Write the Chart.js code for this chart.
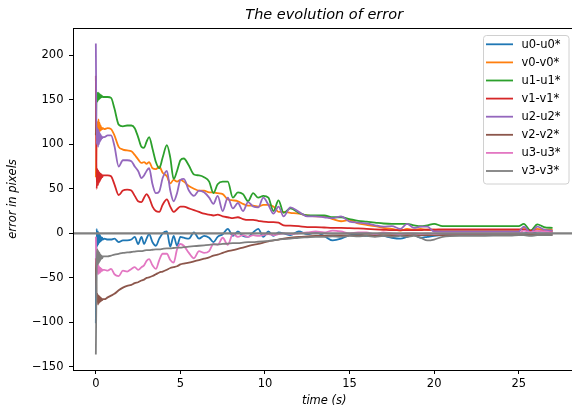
<!DOCTYPE html>
<html>
<head>
<meta charset="utf-8">
<title>The evolution of error</title>
<script src="https://cdn.jsdelivr.net/npm/chart.js@4.4.1/dist/chart.umd.min.js"></script>
<style>
  html, body { margin: 0; padding: 0; background: #fff; overflow: hidden; }
  #wrap { width: 572px; height: 414px; overflow: hidden; }
  canvas { display: block; }
</style>
</head>
<body>
<div id="wrap"><canvas id="errorChart" width="578" height="414"></canvas></div>
<script>
// time samples (s), shared by every series
const time = [
  0, 0.05, 0.1, 0.13, 0.16, 0.19, 0.22, 0.25, 0.28, 0.31, 0.34, 0.38, 0.42,
  0.5, 0.7, 0.9, 1.1, 1.35, 1.6, 1.85, 2.1,
  2.3, 2.5, 2.7, 2.85, 3.0, 3.15, 3.35, 3.55, 3.75, 3.95,
  4.2, 4.4, 4.6, 4.8, 5.0, 5.2, 5.5, 5.8, 6.1, 6.4,
  6.7, 6.95, 7.2, 7.5, 7.8, 8.1, 8.4, 8.7, 9.0, 9.3,
  9.6, 9.9, 10.2, 10.5, 10.8, 11.1, 11.5, 12.0, 12.5, 13.0,
  13.5, 14.0, 14.5, 15.0, 15.5, 16.0, 16.5, 17.0, 17.5, 18.0,
  18.4, 18.8, 19.2, 19.6, 20.0, 20.5, 21.5, 22.5, 23.5, 24.5,
  25.0, 25.3, 25.7, 26.1, 26.5, 27.0
];

const u0 = [
  -101, 5, -14, 2, -12, 0, -10, -2, -9, -4, -8, -5, -7,
  -6, -7, -7, -6, -10, -8, -8, -7,
  -4, -12, -4, -12, -6, -1, -10, -14, -6, 0,
  2, -15, -3, -14, -4, -5, -6, 1, -6, -3,
  -5, -10, -4, -1, 5, -3, 2, -3, -4, 1,
  5, -4, 2, -3, 1, 0, -2, 2, -1, 1,
  -3, -8, -6, -2, -1, -3, -2, -3, -5, -6,
  -4, -2, -5, -4, -3, -2, -1, -1, -1, -0.5,
  0, 0, 1, 0, 0, 1
];
const v0 = [
  63, 110, 125, 112, 128, 114, 124, 115, 121, 116, 119, 117, 118,
  117, 118, 117, 110, 97, 94, 93, 92,
  88, 83, 79, 80, 78, 80, 73, 72, 75, 68,
  64, 56, 60, 58, 60, 58, 53, 50, 48, 48,
  46, 46, 45, 44, 38, 37, 36, 33, 31, 31,
  30, 32, 32, 30, 24, 24, 23, 22, 20, 19,
  19, 16, 13.5, 15, 11, 9.5, 8, 6, 5, 3,
  5, 4, 5, 4, 4, 3.5, 3.5, 3.5, 3.5, 3.5,
  3.5, 6, 3, 5, 4, 4
];
const u1 = [
  110, 158, 148, 158, 150, 157, 151, 156, 152, 155, 153, 154, 153,
  153, 153, 152, 140, 122, 120, 121, 121,
  118, 108, 97, 96, 103, 108, 95, 80, 73, 85,
  99, 85, 61, 70, 82, 84, 76, 66, 65, 63,
  58, 45, 55, 58, 58, 40, 46, 44, 36, 45,
  40, 42, 40, 25, 37, 23, 28, 23, 20, 20,
  20, 18, 18, 16, 14, 13, 12, 11, 10.5, 10.5,
  10.6, 9, 7.9, 9, 10.6, 8, 8, 8, 8, 8,
  8, 10.6, 3, 10, 7, 6
];
const v1 = [
  177, 50, 72, 54, 70, 57, 68, 59, 67, 61, 66, 63, 65,
  65, 65, 64, 55, 43, 48, 49, 48,
  42, 36, 35, 40, 44, 40, 30, 25, 24, 32,
  38, 30, 24, 27, 30, 30, 28, 26, 24, 22,
  21, 20, 21, 19, 18, 17, 18, 16, 15, 15,
  14, 13, 12.5, 12.5, 12, 9, 8.6, 8, 7, 7,
  6.5, 6, 6, 5.8, 5.5, 5, 4.5, 4, 3.5, 3.5,
  3.5, 3.5, 3.5, 4, 4, 4.5, 4.5, 4.5, 4.5, 4.5,
  4.5, 4, 3, 3, 2.5, 2.5
];
const u2 = [
  213, 100, 118, 97, 116, 100, 113, 103, 111, 105, 109, 107, 108,
  108, 110, 110, 98, 75, 82, 82, 81,
  75, 70, 62, 65, 70, 73, 55, 45, 47, 62,
  70, 48, 36, 45, 60, 61, 48, 42, 48, 46,
  40, 33, 42, 25, 40, 28, 34, 25, 35, 30,
  29, 40, 32, 22, 30, 19, 29, 24, 19, 19,
  18, 17, 19, 13, 12, 11, 9, 7.5, 8, 5,
  10.6, 6, 7.5, 7.5, 2, 2, 2, 2, 2, 2,
  2, 7.5, 1, 7.5, 4, 3
];
const v2 = [
  -28, -76, -68, -80, -70, -78, -71, -77, -72, -76, -73, -75, -74,
  -74, -72, -70, -68, -64, -61, -59, -58,
  -56, -55, -53, -52, -50, -49.5, -48, -46, -44, -43,
  -41, -39, -38, -37, -35, -34, -33, -31.5, -30, -28.5,
  -27, -25, -24, -22, -20, -19, -17.5, -16, -14.5, -13,
  -12, -10.5, -9, -8, -7, -6, -5, -4, -3.5, -3,
  -2.8, -2.5, -2.5, -2.3, -2.3, -2, -2, -2, -2, -2,
  -2, -2, -2, -2, -2, -2, -1.8, -1.8, -1.8, -1.8,
  -1.8, -1.5, -1.5, -1.5, -1.5, -1.5
];
const u3 = [
  -4, -42, -34, -46, -36, -45, -38, -44, -39, -43, -40, -42, -41,
  -41, -42, -40, -46, -48, -42, -43, -40,
  -38, -41, -38, -36, -31, -29, -36, -40, -30, -23,
  -23, -30, -33, -18, -12, -14, -22, -28, -20, -22,
  -20, -12, -13, -5, -13, -1, -4, -2, -4, -2,
  -3, -2, -1, -2, -1, 0, -1, 0, 1, 2,
  1, 3, 2, 0, 1, 1, -1, 1, 0, -1,
  0, 0, -1, 0, -1, 0, 0, 0, 0, 0,
  0, 3, 1, 3, 2, 1
];
const v3 = [
  -136, -40, -18, -35, -20, -33, -22, -31, -24, -29, -25, -28, -26,
  -26, -26, -25, -24, -23, -22, -21.5, -21,
  -20.5, -20, -20, -19.5, -19, -19, -18.5, -18, -18, -17.5,
  -17, -17, -16.5, -16, -16, -15.5, -15, -14.5, -14, -13.5,
  -13, -12.5, -12.5, -12, -11.5, -11, -11, -10.5, -10, -10,
  -9.5, -9, -8.5, -8, -7, -6.5, -6, -5, -4.5, -4,
  -4, -3.5, -4, -3, -3.5, -3, -4, -3, -4, -3,
  -4, -3, -5, -8, -7, -4, -3, -3, -2.5, -2.5,
  -2, -2, -3, -2, -2, -2
];

const seriesNames = ['u0-u0*', 'v0-v0*', 'u1-u1*', 'v1-v1*', 'u2-u2*', 'v2-v2*', 'u3-u3*', 'v3-v3*'];
const seriesValues = [u0, v0, u1, v1, u2, v2, u3, v3];
const colors = ['#1f77b4', '#ff7f0e', '#2ca02c', '#d62728', '#9467bd', '#8c564b', '#e377c2', '#7f7f7f'];
const xTicks = [0, 5, 10, 15, 20, 25];
const yTicks = [-150, -100, -50, 0, 50, 100, 150, 200];
const xMin = -1.35, xMax = 28.35;
const yMin = -153.5, yMax = 230.5;

const FONT = '"DejaVu Sans", sans-serif';

const datasets = seriesValues.map((vals, i) => ({
    label: seriesNames[i],
    data: vals.map((v, k) => ({ x: time[k], y: v })),
    borderColor: colors[i],
    borderWidth: 1.8,
    borderJoinStyle: 'round',
    cubicInterpolationMode: 'monotone',
    pointRadius: 0,
    fill: false,
    order: 10 - i
}));
// horizontal reference line at zero, across the whole axes
datasets.push({
    label: 'zero',
    data: [{ x: xMin, y: 0 }, { x: xMax, y: 0 }],
    borderColor: '#808080',
    borderWidth: 2.2,
    pointRadius: 0,
    fill: false,
    order: 0
});

const framePlugin = {
    id: 'frame',
    afterDatasetsDraw(chart) {
        const { ctx, chartArea: a } = chart;
        ctx.save();
        ctx.strokeStyle = '#000';
        ctx.lineWidth = 1;
        ctx.strokeRect(Math.round(a.left) + 0.5, Math.round(a.top) + 0.5, a.right - a.left, a.bottom - a.top);
        ctx.restore();
    }
};

const legendPlugin = {
    id: 'boxLegend',
    afterDraw(chart) {
        const ctx = chart.ctx;
        const x = 483.5, y = 35.5, w = 85.5, h = 148.5, r = 3;
        ctx.save();
        ctx.beginPath();
        ctx.roundRect(x, y, w, h, r);
        ctx.fillStyle = 'rgba(255,255,255,0.8)';
        ctx.fill();
        ctx.strokeStyle = '#d0d0d0';
        ctx.lineWidth = 1;
        ctx.stroke();
        ctx.font = '11.5px ' + FONT;
        ctx.textBaseline = 'middle';
        ctx.fillStyle = '#000';
        seriesNames.forEach((name, i) => {
            const ly = 44.3 + i * 18.1;
            ctx.beginPath();
            ctx.moveTo(486, ly);
            ctx.lineTo(513, ly);
            ctx.strokeStyle = colors[i];
            ctx.lineWidth = 1.8;
            ctx.stroke();
            ctx.fillText(name, 521.5, ly + 0.5);
        });
        ctx.restore();
    }
};

const fmt = (v) => String(v).replace('-', '\u2212');

new Chart(document.getElementById('errorChart'), {
    type: 'line',
    data: { datasets },
    options: {
        responsive: false,
        animation: false,
        layout: { padding: { left: 0, right: 2.6, top: 0, bottom: 0 } },
        plugins: {
            legend: { display: false },
            tooltip: { enabled: false },
            title: {
                display: true,
                text: 'The evolution of error',
                fullSize: false,
                color: '#000',
                font: { family: FONT, size: 14.5, style: 'italic', weight: 'normal', lineHeight: 1.2 },
                padding: { top: 6.5, bottom: 4.1 }
            }
        },
        scales: {
            x: {
                type: 'linear',
                min: xMin,
                max: xMax,
                afterBuildTicks: (s) => { s.ticks = xTicks.map(v => ({ value: v })); },
                afterFit: (s) => { s.height = 44; },
                border: { display: false },
                grid: { display: true, drawOnChartArea: false, drawTicks: true, tickLength: 4, color: '#000' },
                ticks: { color: '#000', padding: 3, maxRotation: 0, font: { family: FONT, size: 11.5 }, callback: fmt },
                title: {
                    display: true, text: 'time (s)', color: '#000',
                    font: { family: FONT, size: 11.5, style: 'italic', lineHeight: 1.2 },
                    padding: { top: 0, bottom: 6 }
                }
            },
            y: {
                type: 'linear',
                min: yMin,
                max: yMax,
                afterBuildTicks: (s) => { s.ticks = yTicks.map(v => ({ value: v })); },
                afterFit: (s) => { s.width = 73; },
                border: { display: false },
                grid: { display: true, drawOnChartArea: false, drawTicks: true, tickLength: 4, color: '#000' },
                ticks: { color: '#000', padding: 5.5, font: { family: FONT, size: 11.5 }, callback: fmt },
                title: {
                    display: true, text: 'error in pixels', color: '#000',
                    font: { family: FONT, size: 11.5, style: 'italic', lineHeight: 1.2 },
                    padding: { top: 6, bottom: 0 }
                }
            }
        }
    },
    plugins: [framePlugin, legendPlugin]
});
</script>
</body>
</html>
